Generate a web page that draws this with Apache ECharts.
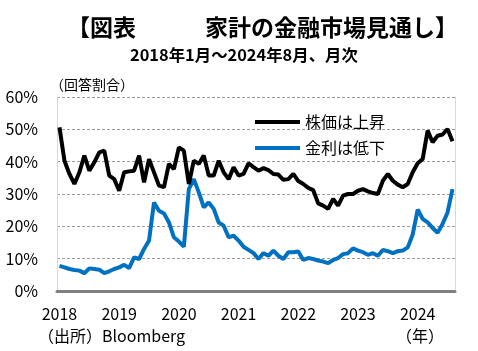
<!DOCTYPE html>
<html>
<head>
<meta charset="utf-8">
<script src="https://cdn.jsdelivr.net/npm/echarts@6/dist/echarts.min.js"></script>
<style>
html,body{margin:0;padding:0;background:#fff;}
#c{width:478px;height:351px;}
</style>
</head>
<body>
<div id="c"></div>
<script>
// ---- data ----
var yearLabels = ['2018','2019','2020','2021','2022','2023','2024'];
var months = [];
for (var y = 2018; y <= 2024; y++) {
  for (var m = 1; m <= 12; m++) {
    if (y === 2024 && m > 8) break;
    months.push(y + '-' + (m < 10 ? '0' + m : m));
  }
}
var seriesNames = ['株価は上昇', '金利は低下'];
var stockUp = [50.6,40.3,36.2,33.1,36.7,41.9,37.2,39.8,42.9,43.4,35.7,34.6,
  31.0,36.7,37.0,37.2,41.9,33.6,40.8,36.7,32.6,32.1,39.3,37.7,
  44.4,43.4,33.1,40.3,39.3,41.9,35.7,35.7,40.3,36.7,34.6,38.3,
  35.7,36.2,39.5,38.3,37.2,38.0,37.4,36.2,36.0,34.4,34.6,36.2,
  34.0,33.1,31.9,31.2,27.1,26.4,25.4,28.5,26.4,29.5,30.0,30.0,
  31.0,31.5,30.8,30.3,30.0,34.1,36.2,34.1,32.9,32.1,33.1,36.7,
  39.5,40.8,49.6,46.0,48.0,48.4,50.1,46.3];
var rateDown = [7.8,7.3,6.8,6.5,6.3,5.5,7.0,6.8,6.6,5.5,6.1,6.8,
  7.3,8.1,7.1,10.4,9.9,13.0,15.6,27.4,24.8,24.0,21.2,16.6,
  15.3,13.7,31.5,34.6,30.5,25.9,27.4,25.4,21.2,20.2,16.6,17.1,
  15.6,13.7,12.7,11.7,9.9,11.7,10.9,12.5,10.9,9.9,12.0,12.0,
  12.2,9.6,10.2,9.9,9.4,9.1,8.6,9.6,10.2,11.4,11.7,13.2,
  12.5,12.0,11.2,11.7,10.9,12.7,12.3,11.7,12.3,12.5,13.5,17.5,
  25.2,22.3,21.2,19.5,18.0,20.7,24.3,31.5];

var FONT = '"Noto Sans CJK JP", "Noto Sans", sans-serif';
var chart = echarts.init(document.getElementById('c'), null, {renderer: 'canvas'});
chart.setOption({
  backgroundColor: '#fff',
  animation: false,
  textStyle: {fontFamily: FONT},
  grid: {left: 57, right: 23, top: 97, bottom: 60, containLabel: false},
  legend: {
    data: seriesNames,
    orient: 'vertical',
    left: 250, top: 108,
    icon: 'rect',
    itemWidth: 45, itemHeight: 4,
    itemGap: 8,
    textStyle: {fontSize: 16, color: '#000', fontFamily: FONT, lineHeight: 18}
  },
  xAxis: {
    type: 'category',
    data: months,
    boundaryGap: true,
    axisLine: {lineStyle: {color: '#808080', width: 3}},
    axisTick: {show: false},
    axisLabel: {
      interval: function (idx) { return idx % 12 === 0; },
      formatter: function (v, idx) { return yearLabels[Math.floor(idx / 12)]; },
      fontSize: 16, color: '#000', margin: 15, fontFamily: FONT
    },
    splitLine: {show: false}
  },
  yAxis: [{
    type: 'value', min: 0, max: 60, interval: 10,
    axisLine: {show: true, lineStyle: {color: '#d9d9d9', width: 1}},
    axisTick: {show: false},
    axisLabel: {formatter: '{value}%', fontSize: 16, color: '#000', margin: 19, fontFamily: FONT},
    splitLine: {lineStyle: {color: '#9a9a9a', type: [3, 2], width: 1}}
  }, {
    type: 'value', min: 0, max: 60, interval: 10, position: 'right',
    axisLine: {show: true, lineStyle: {color: '#d9d9d9', width: 1}},
    axisTick: {show: false}, axisLabel: {show: false}, splitLine: {show: false}
  }],
  graphic: [
    {type: 'text', left: 67, top: 16, style: {text: '【図表　　　家計の金融市場見通し】', font: 'bold 23px ' + FONT, fill: '#000'}},
    {type: 'text', left: 130, top: 47, style: {text: '2018年1月～2024年8月、月次', font: 'bold 16.4px ' + FONT, fill: '#000'}},
    {type: 'text', left: 50, top: 78, style: {text: '（回答割合）', font: '14px ' + FONT, fill: '#000'}},
    {type: 'text', left: 38, top: 328, style: {text: '（出所）Bloomberg', font: '16px ' + FONT, fill: '#000'}},
    {type: 'text', left: 396, top: 328, style: {text: '（年）', font: '16px ' + FONT, fill: '#000'}}
  ],
  series: [
    {name: seriesNames[0], type: 'line', data: stockUp, showSymbol: false, symbol: 'none',
     lineStyle: {color: '#000', width: 4}, itemStyle: {color: '#000'}, z: 3},
    {name: seriesNames[1], type: 'line', data: rateDown, showSymbol: false, symbol: 'none',
     lineStyle: {color: '#0070c0', width: 4}, itemStyle: {color: '#0070c0'}, z: 2}
  ]
});
</script>
</body>
</html>
